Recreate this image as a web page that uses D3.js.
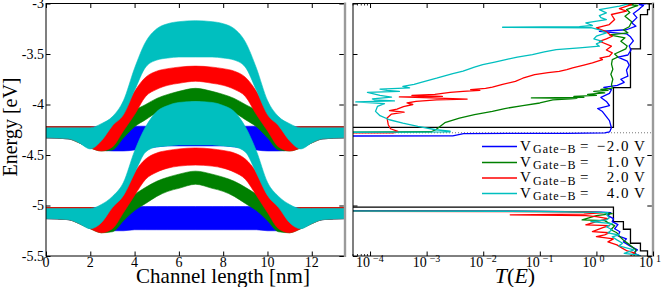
<!DOCTYPE html>
<html><head><meta charset="utf-8">
<script src="https://cdn.jsdelivr.net/npm/d3@7"></script>
<style>
body{margin:0;background:#fff}
svg{display:block}
svg text{font-family:'Liberation Serif','DejaVu Serif',serif !important;fill:#000}
</style>
</head><body>
<svg id="chart" width="665" height="287" font-family="'Liberation Serif','DejaVu Serif',serif"></svg>
<script>
// ---------------- DATA ----------------
const seriesLabels = ["\u22122.0", "1.0", "2.0", "4.0"];
const seriesColors = ["#0000ff", "#008000", "#ff0000", "#00bfbf"];
const xTicksLeft = [0, 2, 4, 6, 8, 10, 12];
const yTicks = [-3, -3.5, -4, -4.5, -5, -5.5];
const xTicksRight = [1e-4, 1e-3, 1e-2, 1e-1, 1, 10];
const xTickExp = ["\u22124", "\u22123", "\u22122", "\u22121", "0", "1"];
const minorTicksRight = [5e-5, 6e-5, 7e-5, 8e-5, 9e-5];

// positions along channel [nm]
const posNm = [0,1,1.5,2,2.5,3,3.5,4,4.5,5,5.5,6,6.75,7.5,8,8.5,9,9.5,10,10.5,11,11.5,12,12.5,13.5];

// upper band envelopes [eV]
const upTopBlue  = [-4.22,-4.22,-4.22,-4.22,-4.22,-4.218,-4.216,-4.215,-4.215,-4.215,-4.215,-4.215,-4.215,-4.215,-4.215,-4.215,-4.215,-4.215,-4.216,-4.218,-4.22,-4.22,-4.22,-4.22,-4.22];
const upBotBlue  = [-4.33,-4.34,-4.37,-4.42,-4.45,-4.46,-4.46,-4.45,-4.43,-4.42,-4.41,-4.41,-4.41,-4.41,-4.41,-4.42,-4.43,-4.45,-4.46,-4.46,-4.45,-4.42,-4.37,-4.34,-4.33];
const upTopGreen = [-4.22,-4.22,-4.22,-4.22,-4.24,-4.23,-4.15,-4.06,-4.0,-3.94,-3.9,-3.87,-3.84,-3.87,-3.9,-3.94,-4.0,-4.06,-4.15,-4.23,-4.24,-4.22,-4.22,-4.22,-4.22];
const upBotGreen = [-4.33,-4.34,-4.38,-4.43,-4.46,-4.45,-4.33,-4.22,-4.15,-4.08,-4.03,-4.0,-3.97,-4.0,-4.03,-4.08,-4.15,-4.22,-4.33,-4.45,-4.46,-4.43,-4.38,-4.34,-4.33];
const upTopRed   = [-4.22,-4.22,-4.22,-4.22,-4.22,-4.19,-4.07,-3.87,-3.73,-3.67,-3.645,-3.63,-3.62,-3.63,-3.645,-3.67,-3.73,-3.87,-4.07,-4.19,-4.22,-4.22,-4.22,-4.22,-4.22];
const upBotRed   = [-4.33,-4.34,-4.38,-4.43,-4.46,-4.42,-4.26,-4.1,-3.92,-3.85,-3.81,-3.79,-3.77,-3.79,-3.81,-3.85,-3.92,-4.1,-4.26,-4.42,-4.46,-4.43,-4.38,-4.34,-4.33];
const upTopCyan  = [-4.23,-4.23,-4.23,-4.23,-4.19,-4.12,-3.96,-3.64,-3.38,-3.25,-3.2,-3.18,-3.17,-3.18,-3.2,-3.25,-3.38,-3.64,-3.96,-4.12,-4.19,-4.23,-4.23,-4.23,-4.23];
const upBotCyan  = [-4.33,-4.34,-4.38,-4.44,-4.36,-4.21,-4.1,-3.86,-3.63,-3.56,-3.54,-3.53,-3.53,-3.53,-3.54,-3.56,-3.63,-3.86,-4.1,-4.21,-4.36,-4.44,-4.38,-4.34,-4.33];

// lower band envelopes [eV]
const loTopBlue  = [-5.02,-5.02,-5.02,-5.02,-5.02,-5.018,-5.015,-5.01,-5.01,-5.01,-5.01,-5.01,-5.01,-5.01,-5.01,-5.01,-5.01,-5.01,-5.015,-5.018,-5.02,-5.02,-5.02,-5.02,-5.02];
const loBotBlue  = [-5.13,-5.14,-5.17,-5.22,-5.25,-5.25,-5.25,-5.24,-5.24,-5.24,-5.24,-5.24,-5.24,-5.24,-5.24,-5.24,-5.24,-5.24,-5.25,-5.25,-5.25,-5.22,-5.17,-5.14,-5.13];
const loTopGreen = [-5.02,-5.02,-5.02,-5.02,-5.04,-5.04,-4.97,-4.89,-4.82,-4.76,-4.72,-4.69,-4.66,-4.69,-4.72,-4.76,-4.82,-4.89,-4.97,-5.04,-5.04,-5.02,-5.02,-5.02,-5.02];
const loBotGreen = [-5.13,-5.14,-5.18,-5.23,-5.27,-5.26,-5.15,-5.05,-4.98,-4.91,-4.86,-4.83,-4.79,-4.83,-4.86,-4.91,-4.98,-5.05,-5.15,-5.26,-5.27,-5.23,-5.18,-5.14,-5.13];
const loTopRed   = [-5.02,-5.02,-5.02,-5.02,-5.03,-4.99,-4.87,-4.67,-4.54,-4.48,-4.455,-4.44,-4.43,-4.44,-4.455,-4.48,-4.54,-4.67,-4.87,-4.99,-5.03,-5.02,-5.02,-5.02,-5.02];
const loBotRed   = [-5.13,-5.14,-5.18,-5.23,-5.27,-5.23,-5.07,-4.9,-4.74,-4.67,-4.63,-4.61,-4.6,-4.61,-4.63,-4.67,-4.74,-4.9,-5.07,-5.23,-5.27,-5.23,-5.18,-5.14,-5.13];
const loTopCyan  = [-5.03,-5.03,-5.03,-5.03,-4.99,-4.91,-4.77,-4.46,-4.22,-4.07,-4.01,-3.98,-3.97,-3.98,-4.01,-4.07,-4.22,-4.46,-4.77,-4.91,-4.99,-5.03,-5.03,-5.03,-5.03];
const loBotCyan  = [-5.13,-5.14,-5.18,-5.23,-5.17,-5.02,-4.9,-4.68,-4.47,-4.42,-4.41,-4.4,-4.4,-4.4,-4.41,-4.42,-4.47,-4.68,-4.9,-5.02,-5.17,-5.23,-5.18,-5.14,-5.13];

// transmission: ideal staircase
const stairUpE = [-4.227,-4.227,-3.833,-3.833,-3.449,-3.449,-3.11,-3.11,-3.06,-3.06,-3.0];
const stairUpT = [4e-5,2,2,4,4,6,6,8,8,8.6,8.6];
const stairLoE = [-5.017,-5.017,-5.16,-5.16,-5.235,-5.235,-5.374,-5.374,-5.45,-5.45,-5.5];
const stairLoT = [4e-5,2,2,3,3,4,4,6,6,8,8];
const fermiE = -4.28;

// transmission curves, upper band region
const blueUpE = [-4.312,-4.31,-4.288,-4.285,-4.28,-4.27,-4.26,-4.23,-4.16,-4.07,-4.04,-4.01,-3.97,-3.93,-3.89,-3.853,-3.83,-3.81,-3.78,-3.75,-3.72,-3.66,-3.61,-3.57,-3.53,-3.51,-3.46,-3.42,-3.37,-3.33,-3.30,-3.275,-3.26,-3.225,-3.19,-3.14,-3.10,-3.06,-3.04,-3.02,-3.01,-3.0];
const blueUpT = [4e-5,2.9e-3,4.5e-3,0.3,1.4,1.7,1.75,1.84,1.7,1.28,1.05,1.7,1.5,1.2,1.7,1.84,1.35,2.34,3.1,2.7,3.6,3.4,3.8,3.5,2.4,3.6,4.1,3.8,4.5,4.0,3.4,1.13,3.4,5.0,4.2,5.2,4.5,5.6,6.1,6.8,5.7,7.9];
const greenUpE = [-4.275,-4.27,-4.25,-4.22,-4.18,-4.134,-4.10,-4.068,-4.04,-4.012,-3.985,-3.955,-3.945,-3.94,-3.935,-3.93,-3.92,-3.91,-3.90,-3.885,-3.87,-3.86,-3.85,-3.837,-3.80,-3.75,-3.70,-3.65,-3.60,-3.556,-3.53,-3.50,-3.449,-3.42,-3.374,-3.34,-3.31,-3.29,-3.26,-3.23,-3.18,-3.126,-3.09,-3.06,-3.03,-3.02,-3.01,-3.0];
const greenUpT = [4e-5,1.2e-3,1.45e-3,1.7e-3,2.1e-3,3.8e-3,7e-3,0.0145,0.024,0.05,0.1,0.17,0.35,0.45,0.071,0.6,0.4,1.0,0.7,1.4,0.9,1.6,1.2,1.91,1.85,1.95,1.8,1.95,1.85,1.91,2.4,2.1,3.3,3.5,2.7,3.2,1.7,3.6,3.0,3.8,4.2,3.2,3.9,3.4,4.7,5.4,3.7,4.6];
const redUpE = [-4.28,-4.28,-4.267,-4.24,-4.20,-4.134,-4.095,-4.075,-4.06,-4.045,-4.02,-4.0,-3.985,-3.97,-3.955,-3.946,-3.935,-3.925,-3.92,-3.91,-3.90,-3.88,-3.87,-3.86,-3.853,-3.84,-3.827,-3.80,-3.771,-3.74,-3.704,-3.685,-3.671,-3.655,-3.638,-3.61,-3.589,-3.556,-3.54,-3.522,-3.489,-3.46,-3.423,-3.374,-3.35,-3.324,-3.275,-3.241,-3.208,-3.159,-3.109,-3.076,-3.05,-3.01,-3.0];
const redUpT = [4e-5,2.6e-4,3.1e-4,2.3e-4,2.1e-4,2.0e-4,2.4e-4,4.0e-4,2.2e-4,3.0e-4,3.9e-4,5.7e-4,4.5e-4,6.5e-4,1.5e-3,5.2e-3,1.2e-3,3.3e-4,1.9e-3,5.5e-4,1.4e-3,2.6e-3,4.4e-3,8.7e-3,6.0e-3,0.011,0.0145,0.022,0.037,0.05,0.081,0.14,0.22,0.3,0.38,0.6,0.85,1.28,1.15,1.69,1.91,1.5,1.84,1.13,1.5,1.91,1.45,1.0,1.69,2.1,1.84,3.4,2.55,4.15,3.4];
const cyanUpE = [-4.275,-4.272,-4.265,-4.25,-4.217,-4.184,-4.151,-4.111,-4.068,-4.019,-3.992,-3.975,-3.965,-3.955,-3.945,-3.926,-3.91,-3.88,-3.87,-3.86,-3.847,-3.835,-3.82,-3.80,-3.78,-3.74,-3.694,-3.67,-3.63,-3.605,-3.58,-3.556,-3.53,-3.506,-3.48,-3.456,-3.44,-3.423,-3.40,-3.374,-3.35,-3.324,-3.291,-3.26,-3.24,-3.235,-3.228,-3.218,-3.192,-3.159,-3.14,-3.119,-3.093,-3.06,-3.027,-3.0];
const cyanUpT = [4e-5,2.6e-3,2.6e-3,1.45e-3,7.0e-4,3.8e-4,2.2e-4,1.5e-4,1.25e-4,1.35e-4,1.8e-4,5.6e-5,2.7e-4,1.2e-4,1.1e-4,2.4e-4,1.5e-4,9e-5,3.3e-4,2.0e-4,1.5e-4,5e-4,3.8e-4,6.0e-4,8.0e-4,1.5e-3,2.9e-3,4.4e-3,7e-3,9.8e-3,0.016,0.025,0.04,0.074,0.12,0.195,0.5,1.13,1.0,1.28,0.9,1.0,1.5,1.13,0.8,0.022,0.5,0.85,0.65,1.5,1.2,1.13,1.5,1.13,2.55,3.82];

// transmission curves, lower band region
const blueLoE = [-5.052,-5.055,-5.06,-5.065,-5.07,-5.10,-5.13,-5.16,-5.19,-5.23,-5.26,-5.30,-5.33,-5.36,-5.40,-5.44,-5.47,-5.5];
const blueLoT = [4e-5,0.03,0.3,1.2,1.8,1.6,2.0,1.9,2.4,2.1,2.6,2.4,3.4,3.0,3.9,5.3,4.5,6.0];
const greenLoE = [-5.056,-5.06,-5.07,-5.08,-5.10,-5.143,-5.15,-5.17,-5.2,-5.24,-5.27,-5.31,-5.35,-5.39,-5.44,-5.5];
const greenLoT = [4e-5,0.3,1.3,1.9,1.0,0.56,1.4,1.6,2.1,1.8,2.3,2.6,3.1,3.9,5.0,4.6];
const redLoE = [-5.058,-5.06,-5.07,-5.085,-5.092,-5.1,-5.11,-5.13,-5.16,-5.192,-5.2,-5.22,-5.258,-5.27,-5.29,-5.308,-5.33,-5.36,-5.39,-5.424,-5.45,-5.47,-5.5];
const redLoT = [4e-5,0.5,1.3,0.6,0.03,0.65,1.0,1.6,1.0,0.65,1.7,1.3,0.85,1.7,1.4,1.0,2.0,1.6,2.3,2.9,3.5,4.7,4.0];
const cyanLoE = [-5.055,-5.057,-5.06,-5.065,-5.07,-5.09,-5.12,-5.143,-5.16,-5.18,-5.21,-5.24,-5.27,-5.292,-5.31,-5.34,-5.374,-5.40,-5.44,-5.474,-5.49,-5.5];
const cyanLoT = [4e-5,0.025,0.2,0.6,1.6,1.5,1.7,1.5,0.8,1.9,1.5,1.9,1.6,2.5,1.9,2.3,2.9,2.5,4.6,3.1,5.5,6.0];

// ---------------- DRAW ----------------
const FONT = "'Liberation Serif','DejaVu Serif',serif";
const svg = d3.select("#chart");
const plotTop = 3.5, plotBot = 256;
const L = {x0: 46, x1: 345}, R = {x0: 353, x1: 653};
const xL = d3.scaleLinear().domain([0, 13.5]).range([L.x0, L.x1]);
const xR = d3.scaleLog().domain([5e-5, 10]).range([R.x0, R.x1]);
const y = d3.scaleLinear().domain([-5.5, -3]).range([plotBot, plotTop]);

const defs = svg.append("defs");
defs.append("clipPath").attr("id","clipL").append("rect")
  .attr("x",L.x0).attr("y",plotTop).attr("width",L.x1-L.x0).attr("height",plotBot-plotTop);
defs.append("clipPath").attr("id","clipR").append("rect")
  .attr("x",R.x0).attr("y",plotTop).attr("width",R.x1-R.x0).attr("height",plotBot-plotTop);

// left panel bands
const bands = [
  [upTopBlue, upBotBlue, loTopBlue, loBotBlue],
  [upTopGreen, upBotGreen, loTopGreen, loBotGreen],
  [upTopRed, upBotRed, loTopRed, loBotRed],
  [upTopCyan, upBotCyan, loTopCyan, loBotCyan]
];
const gL = svg.append("g").attr("clip-path","url(#clipL)");
const area = d3.area().curve(d3.curveMonotoneX)
  .x(d => xL(d.x)).y0(d => y(d.b)).y1(d => y(d.t));
bands.forEach((b, s) => {
  [[b[0], b[1]], [b[2], b[3]]].forEach(([tp, bt]) => {
    const pts = posNm.map((x, i) => ({x, t: tp[i], b: bt[i]}));
    gL.append("path").attr("d", area(pts))
      .attr("fill", seriesColors[s]).attr("stroke", seriesColors[s]).attr("stroke-width", 0.6);
  });
});

// right panel
const gR = svg.append("g").attr("clip-path","url(#clipR)");
gR.append("line").attr("x1",R.x0).attr("x2",R.x1).attr("y1",y(fermiE)).attr("y2",y(fermiE))
  .attr("stroke","#777").attr("stroke-width",1).attr("stroke-dasharray","1,2");
const line = d3.line().x(d => xR(d[1])).y(d => y(d[0]));
const zipET = (E, T) => E.map((e, i) => [e, T[i]]);
[[stairUpE, stairUpT], [stairLoE, stairLoT]].forEach(([E, T]) => {
  gR.append("path").attr("d", line(zipET(E, T))).attr("fill","none")
    .attr("stroke","#000").attr("stroke-width",1.3);
});
const curves = [
  [[blueUpE, blueUpT], [blueLoE, blueLoT]],
  [[greenUpE, greenUpT], [greenLoE, greenLoT]],
  [[redUpE, redUpT], [redLoE, redLoT]],
  [[cyanUpE, cyanUpT], [cyanLoE, cyanLoT]]
];
curves.forEach((c, s) => {
  c.forEach(([E, T]) => {
    gR.append("path").attr("d", line(zipET(E, T))).attr("fill","none")
      .attr("stroke", seriesColors[s]).attr("stroke-width",1.3).attr("stroke-linejoin","round");
  });
});

// axes
const tick = 4.5, fs = 14;
function box(P){
  svg.append("rect").attr("x",P.x0).attr("y",plotTop).attr("width",P.x1-P.x0).attr("height",plotBot-plotTop)
    .attr("fill","none").attr("stroke","#000").attr("stroke-width",1);
  svg.append("line").attr("x1",P.x1).attr("x2",P.x1).attr("y1",plotTop-1).attr("y2",plotBot+1)
    .attr("stroke","#9a9a9a").attr("stroke-width",2.4);
}
box(L); box(R);

function axes(g, xs, P, withYLabels){
  g.append("g").attr("transform",`translate(0,${plotBot})`)
    .call(d3.axisBottom(xs.s).tickValues(xs.v).tickSizeInner(-tick).tickSizeOuter(0).tickFormat(""))
    .call(a => a.select(".domain").remove());
  g.append("g").attr("transform",`translate(0,${plotTop})`)
    .call(d3.axisTop(xs.s).tickValues(xs.v).tickSizeInner(-tick).tickSizeOuter(0).tickFormat(""))
    .call(a => a.select(".domain").remove());
  g.append("g").attr("transform",`translate(${P.x0},0)`)
    .call(d3.axisLeft(y).tickValues(yTicks).tickSizeInner(-tick).tickSizeOuter(0).tickPadding(2)
      .tickFormat(withYLabels ? (d => String(d)) : ""))
    .call(a => a.select(".domain").remove())
    .call(a => a.attr("font-family", FONT).attr("font-size", fs))
    .call(a => a.selectAll("text").attr("fill","#000"));
  g.append("g").attr("transform",`translate(${P.x1 - 1.2},0)`)
    .call(d3.axisRight(y).tickValues(yTicks).tickSizeInner(-tick).tickSizeOuter(0).tickFormat(""))
    .call(a => a.select(".domain").remove());
}
const gA = svg.append("g");
axes(gA, {s: xL, v: xTicksLeft}, L, true);
axes(gA, {s: xR, v: xTicksRight}, R, false);
gA.selectAll(".tick line").attr("stroke","#000");

// minor log ticks
minorTicksRight.forEach(v => {
  [[plotBot, plotBot-2], [plotTop, plotTop+2]].forEach(([a,b]) => {
    svg.append("line").attr("x1",xR(v)).attr("x2",xR(v)).attr("y1",a).attr("y2",b)
      .attr("stroke","#000").attr("stroke-width",0.8);
  });
});

// x tick labels
xTicksLeft.forEach(v => {
  svg.append("text").attr("x", xL(v)).attr("y", 267).attr("text-anchor","middle")
    .attr("font-family", FONT).attr("font-size", fs).text(v);
});
xTicksRight.forEach((v, i) => {
  svg.append("text").attr("x", xR(v)).attr("y", 267).attr("text-anchor","end")
    .attr("font-family", FONT).attr("font-size", fs).text("10");
  svg.append("text").attr("x", xR(v) + 3).attr("y", 262)
    .attr("font-family", FONT).attr("font-size", 10).text(xTickExp[i]);
});

// axis titles
svg.append("text").attr("transform","translate(17,127) rotate(-90)").attr("text-anchor","middle")
  .attr("font-family", FONT).attr("font-size",20).text("Energy [eV]");
svg.append("text").attr("x",223).attr("y",282.5).attr("text-anchor","middle")
  .attr("font-family", FONT).attr("font-size",21).text("Channel length [nm]");
const te = svg.append("text").attr("x",515).attr("y",282.5).attr("text-anchor","middle")
  .attr("font-family", FONT).attr("font-size",22);
te.append("tspan").attr("font-style","italic").text("T");
te.append("tspan").text("(");
te.append("tspan").attr("font-style","italic").text("E");
te.append("tspan").text(")");

// legend
const legY = [146.5, 162.5, 178, 193.5];
seriesLabels.forEach((lab, i) => {
  const yy = legY[i];
  svg.append("line").attr("x1",482).attr("x2",517).attr("y1",yy).attr("y2",yy)
    .attr("stroke",seriesColors[i]).attr("stroke-width",1.5);
  const t = (x, dy, fsz, txt, anchor) => svg.append("text").attr("x",x).attr("y",yy+dy)
    .attr("font-family", FONT).attr("font-size",fsz).attr("text-anchor",anchor||"start").text(txt);
  t(520, 4, 15, "V");
  t(533, 6.5, 12, "Gate\u2212B").attr("letter-spacing",1);
  t(580, 4, 15, "=");
  t(630, 4, 15, lab, "end").attr("letter-spacing",1.5);
  t(634, 4, 15, "V");
});
</script>
</body></html>
